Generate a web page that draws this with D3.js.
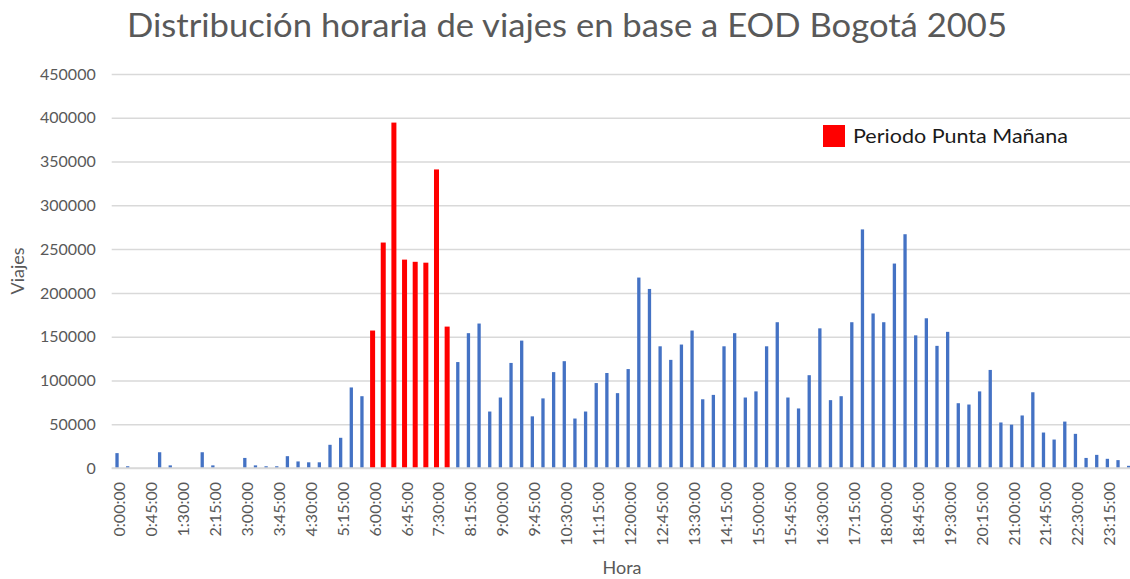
<!DOCTYPE html>
<html>
<head>
<meta charset="utf-8">
<script src="https://cdn.jsdelivr.net/npm/d3@7"></script>
<style>
  html, body { margin: 0; padding: 0; background: #ffffff; }
  svg { display: block; }
  text { font-family: Lato, "Open Sans", "Liberation Sans", sans-serif; }
</style>
</head>
<body>
<svg id="chart" width="1130" height="579"></svg>
<script>
// Quarter-hour intervals of the day
const horas = [
  "0:00:00","0:15:00","0:30:00","0:45:00","1:00:00","1:15:00","1:30:00","1:45:00",
  "2:00:00","2:15:00","2:30:00","2:45:00","3:00:00","3:15:00","3:30:00","3:45:00",
  "4:00:00","4:15:00","4:30:00","4:45:00","5:00:00","5:15:00","5:30:00","5:45:00",
  "6:00:00","6:15:00","6:30:00","6:45:00","7:00:00","7:15:00","7:30:00","7:45:00",
  "8:00:00","8:15:00","8:30:00","8:45:00","9:00:00","9:15:00","9:30:00","9:45:00",
  "10:00:00","10:15:00","10:30:00","10:45:00","11:00:00","11:15:00","11:30:00","11:45:00",
  "12:00:00","12:15:00","12:30:00","12:45:00","13:00:00","13:15:00","13:30:00","13:45:00",
  "14:00:00","14:15:00","14:30:00","14:45:00","15:00:00","15:15:00","15:30:00","15:45:00",
  "16:00:00","16:15:00","16:30:00","16:45:00","17:00:00","17:15:00","17:30:00","17:45:00",
  "18:00:00","18:15:00","18:30:00","18:45:00","19:00:00","19:15:00","19:30:00","19:45:00",
  "20:00:00","20:15:00","20:30:00","20:45:00","21:00:00","21:15:00","21:30:00","21:45:00",
  "22:00:00","22:15:00","22:30:00","22:45:00","23:00:00","23:15:00","23:30:00","23:45:00"
];

// Trips started in each quarter hour
const viajes = [
  17000, 2000, 0, 0, 18000, 3000, 0, 0,
  18000, 3000, 0, 0, 11500, 3000, 2000, 2000,
  13500, 7500, 6500, 6500, 26500, 34500, 92000, 82000,
  157000, 257500, 394500, 238000, 235500, 234500, 341000, 161500,
  121000, 154000, 165000, 64500, 80500, 120000, 145500, 59000,
  79500, 109500, 122000, 56500, 64500, 97000, 108500, 85500,
  113000, 217500, 204500, 139000, 123500, 141000, 157000, 78500,
  83500, 139000, 154000, 80500, 87500, 139000, 166500, 80500,
  68000, 106000, 159500, 77500, 82000, 166500, 272500, 176500,
  166500, 233500, 267000, 151500, 171000, 139500, 155500, 74000,
  72500, 87500, 112000, 52000, 49500, 60000, 86500, 40500,
  32500, 53000, 39000, 11500, 15000, 10500, 9000, 2500
];

// Morning peak period intervals
const puntaManana = ["6:00:00","6:15:00","6:30:00","6:45:00","7:00:00","7:15:00","7:30:00","7:45:00"];

// Y axis ticks
const yTicks = [0, 50000, 100000, 150000, 200000, 250000, 300000, 350000, 400000, 450000];

// Every third interval carries a label on the category axis
const xTickLabels = horas.filter((h, i) => i % 3 === 0);

const svg = d3.select("#chart");
const margin = { left: 111.7, top: 74, bottom: 468 };
const plotRight = 1134;

const x = d3.scaleBand().domain(horas).range([margin.left, plotRight]).padding(0);
const y = d3.scaleLinear().domain([0, 450000]).range([margin.bottom, margin.top]);

const gridColor = "#d9d9d9";
const textColor = "#595959";
const blue = "#4472c4";
const red = "#ff0000";

// Title
svg.append("text")
  .attr("x", 567).attr("y", 37)
  .attr("text-anchor", "middle")
  .attr("fill", textColor)
  .attr("font-size", 32)
  .attr("textLength", 880)
  .attr("lengthAdjust", "spacingAndGlyphs")
  .text("Distribución horaria de viajes en base a EOD Bogotá 2005");

// Horizontal gridlines and y labels
const yAxis = d3.axisLeft(y).tickValues(yTicks).tickSize(-(1130 - margin.left)).tickPadding(16)
  .tickFormat(d => String(d));
const gy = svg.append("g").attr("transform", `translate(${margin.left},0)`).call(yAxis);
gy.select(".domain").remove();
gy.selectAll(".tick line").attr("stroke", gridColor).attr("stroke-width", 1.5);
gy.selectAll(".tick text")
  .attr("fill", textColor)
  .attr("font-size", 16)
  .attr("font-family", "Lato, 'Open Sans', sans-serif");

// Bars
const isPeak = h => puntaManana.includes(h);
svg.append("g").selectAll("rect")
  .data(horas.map((h, i) => ({ hora: h, valor: viajes[i] })))
  .join("rect")
  .attr("x", d => {
    const w = x.bandwidth() * (isPeak(d.hora) ? 0.47 : 0.31);
    return x(d.hora) + x.bandwidth() / 2 - w / 2;
  })
  .attr("width", d => x.bandwidth() * (isPeak(d.hora) ? 0.47 : 0.31))
  .attr("y", d => y(d.valor))
  .attr("height", d => y(0) - y(d.valor))
  .attr("fill", d => isPeak(d.hora) ? red : blue);

// Category axis
const xAxis = d3.axisBottom(x).tickValues(xTickLabels).tickSize(0).tickPadding(0);
const gx = svg.append("g").attr("transform", `translate(0,${margin.bottom})`).call(xAxis);
gx.select(".domain").attr("stroke", gridColor).attr("stroke-width", 1.5)
  .attr("d", `M${margin.left},0H1130`);
gx.selectAll(".tick text")
  .attr("fill", textColor)
  .attr("font-size", 16)
  .attr("font-family", "Lato, 'Open Sans', sans-serif")
  .attr("text-anchor", "end")
  .attr("dy", null)
  .attr("dominant-baseline", "central")
  .attr("transform", "translate(1.5,14) rotate(-90)")
  .attr("y", 0).attr("x", 0);

// Axis titles
svg.append("text")
  .attr("x", 622).attr("y", 574)
  .attr("text-anchor", "middle")
  .attr("fill", textColor)
  .attr("font-size", 18)
  .text("Hora");

svg.append("text")
  .attr("transform", "translate(24,271) rotate(-90)")
  .attr("text-anchor", "middle")
  .attr("fill", textColor)
  .attr("font-size", 18)
  .text("Viajes");

// Legend
const legend = svg.append("g");
legend.append("rect")
  .attr("x", 823).attr("y", 125).attr("width", 22).attr("height", 22)
  .attr("fill", red);
legend.append("text")
  .attr("x", 853).attr("y", 143)
  .attr("fill", "#1a1a1a")
  .attr("font-size", 20)
  .attr("textLength", 215)
  .attr("lengthAdjust", "spacingAndGlyphs")
  .text("Periodo Punta Mañana");
</script>
</body>
</html>
